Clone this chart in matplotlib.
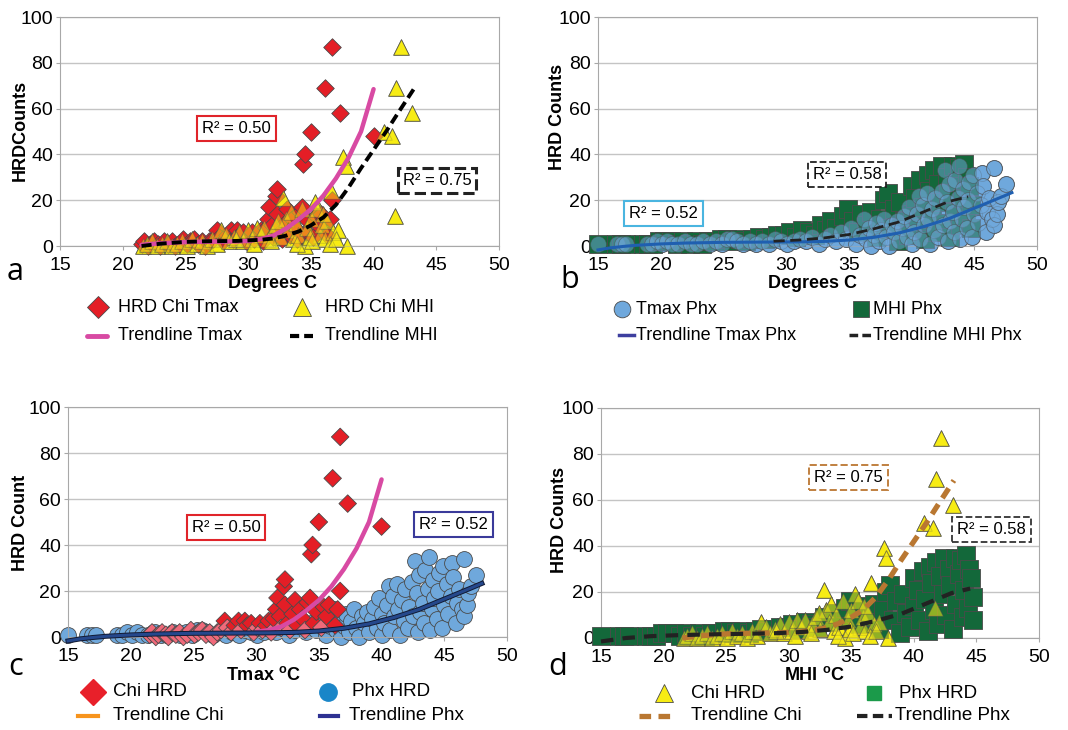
import numpy as np
import matplotlib
matplotlib.use("Agg")
import matplotlib.pyplot as plt
from matplotlib.lines import Line2D

plt.rcParams['font.family'] = ['Liberation Sans', 'DejaVu Sans']
plt.rcParams['mathtext.fontset'] = 'custom'
plt.rcParams['mathtext.rm'] = 'Liberation Sans'
plt.rcParams['mathtext.bf'] = 'Liberation Sans:bold'

# ---- data ----
chi_tmax_x = [21.5, 21.7, 22.0, 22.2, 22.5, 22.8, 23.0, 23.3, 23.6, 23.9,
              24.2, 24.5, 24.8, 25.1, 25.4, 25.7, 26.0, 26.3, 26.6, 26.9,
              27.2, 27.5, 27.7, 28.0, 28.3, 28.6, 28.8, 29.1, 29.3, 29.6,
              29.8, 30.1, 30.3, 30.5, 30.8, 31.0, 31.2, 31.4, 31.6, 31.7,
              31.9, 32.0, 32.2, 32.3, 32.3, 32.5, 32.7, 32.9, 33.1, 33.3,
              33.5, 33.7, 33.9, 34.1, 34.3, 34.4, 34.5, 34.6, 34.8, 35.0,
              35.2, 35.4, 35.6, 35.8, 36.1, 36.3, 36.5, 36.7, 36.7, 37.3,
              40.0]
chi_tmax_y = [1, 2, 0, 1, 2, 1, 0, 2, 1, 2,
              0, 1, 3, 1, 2, 3, 1, 2, 0, 2,
              3, 7, 4, 2, 5, 7, 3, 7, 5, 6,
              2, 4, 6, 3, 5, 7, 2, 8, 12, 17,
              9, 4, 22, 25, 14, 6, 3, 10, 16, 5,
              12, 8, 3, 15, 17, 36, 40, 6, 11, 50,
              4, 13, 9, 14, 69, 5, 12, 87, 20, 58,
              48]

chi_mhi_x = [21.6, 21.9, 22.3, 22.7, 23.1, 23.5, 23.9, 24.3, 24.7, 25.1,
             25.5, 25.9, 26.3, 26.7, 27.1, 27.5, 27.8, 28.2, 28.5, 28.9,
             29.3, 29.6, 30.0, 30.3, 30.7, 31.0, 31.3, 31.6, 31.9, 32.2,
             32.5, 32.8, 33.0, 33.2, 33.4, 33.6, 33.8, 34.0, 34.3, 34.5,
             34.7, 35.0, 35.3, 35.5, 35.7, 35.9, 36.1, 36.3, 36.6, 36.8,
             37.2, 37.6, 37.8, 37.9, 40.8, 41.5, 41.7, 41.8, 42.2, 43.1,
             29.0, 30.5, 31.8, 32.4, 33.9, 34.9, 35.1, 36.0, 36.5, 37.0]
chi_mhi_y = [0, 1, 2, 0, 1, 2, 0, 1, 2, 0,
             3, 1, 2, 0, 3, 1, 7, 5, 2, 4,
             6, 2, 7, 3, 8, 5, 8, 3, 6, 9,
             4, 21, 12, 7, 15, 3, 10, 5, 16, 0,
             8, 12, 19, 16, 5, 9, 3, 11, 24, 6,
             7, 39, 35, 0, 50, 48, 13, 69, 87, 58,
             3, 1, 2, 11, 1, 4, 2, 14, 1, 3]

phx_tmax_x = [15.0, 16.5, 16.9, 17.2, 18.9, 19.3, 19.7, 20.1, 20.5, 20.9,
              21.4, 21.9, 22.4, 22.9, 23.4, 23.9, 24.4, 24.9, 25.3, 25.7,
              26.1, 26.6, 27.1, 27.6, 28.1, 28.6, 29.1, 29.6, 30.1, 30.6,
              31.1, 31.6, 32.1, 32.6, 33.1, 33.5, 34.0, 34.4, 34.8, 35.2,
              35.6, 35.9, 36.2, 36.4, 36.6, 36.8, 37.0, 37.2, 37.4, 37.6,
              37.8, 38.0, 38.2, 38.4, 38.6, 38.8, 39.0, 39.2, 39.4, 39.6,
              39.8, 40.0, 40.0, 40.2, 40.4, 40.6, 40.7, 40.9, 41.0, 41.2,
              41.3, 41.5, 41.6, 41.8, 41.9, 42.1, 42.2, 42.4, 42.5, 42.7,
              42.8, 42.9, 43.0, 43.1, 43.3, 43.4, 43.5, 43.7, 43.8, 43.9,
              44.0, 44.1, 44.2, 44.4, 44.5, 44.6, 44.8, 44.9, 45.0, 45.2,
              45.3, 45.5, 45.6, 45.7, 45.9, 46.0, 46.2, 46.4, 46.6, 46.6,
              46.8, 46.9, 47.1, 47.5]
phx_tmax_y = [1, 1, 1, 1, 1, 1, 2, 1, 2, 1,
              1, 2, 1, 1, 2, 1, 2, 1, 3, 3,
              2, 1, 2, 1, 2, 1, 3, 2, 1, 2,
              3, 2, 4, 1, 3, 5, 2, 6, 3, 8,
              1, 5, 12, 3, 8, 0, 5, 10, 2, 7,
              12, 4, 0, 9, 6, 11, 2, 8, 13, 4,
              17, 10, 1, 6, 14, 22, 3, 18, 9, 23,
              12, 1, 16, 7, 21, 4, 13, 24, 9, 33,
              19, 2, 27, 11, 15, 6, 29, 21, 35, 3,
              12, 25, 17, 8, 20, 28, 4, 31, 14, 23,
              10, 18, 32, 26, 6, 15, 21, 12, 34, 9,
              14, 19, 22, 27]

phx_mhi_x = [15.0, 16.4, 16.8, 17.2, 18.6, 19.0, 19.4, 19.9, 20.3, 20.8,
             21.3, 21.8, 22.3, 22.8, 23.3, 23.8, 24.3, 24.8, 25.3, 25.8,
             26.3, 26.8, 27.3, 27.8, 28.3, 28.8, 29.3, 29.8, 30.3, 30.8,
             31.3, 31.8, 32.3, 32.8, 33.2, 33.6, 34.0, 34.5, 34.9, 35.3,
             35.7, 36.0, 36.4, 36.8, 37.2, 37.5, 37.8, 38.1, 38.3, 38.6,
             38.9, 39.1, 39.4, 39.7, 40.0, 40.0, 40.3, 40.5, 40.7, 40.9,
             41.1, 41.3, 41.4, 41.6, 41.8, 41.9, 42.1, 42.3, 42.4, 42.6,
             42.8, 42.9, 43.1, 43.3, 43.4, 43.6, 43.8, 43.9, 44.0, 44.2,
             44.3, 44.4, 44.6, 44.7, 44.7]
phx_mhi_y = [1, 1, 1, 1, 1, 1, 1, 2, 2, 2,
             1, 2, 1, 2, 1, 2, 2, 3, 3, 2,
             3, 2, 3, 4, 3, 4, 5, 5, 6, 4,
             7, 6, 5, 9, 7, 11, 8, 13, 16, 11,
             6, 14, 9, 15, 4, 12, 20, 23, 8, 16,
             2, 19, 11, 5, 26, 14, 21, 8, 29, 17,
             3, 31, 24, 12, 33, 6, 27, 19, 35, 10,
             30, 23, 4, 35, 15, 28, 34, 9, 21, 36,
             13, 30, 26, 8, 18]

# trendlines
trend_chi_tmax_x = [21.5, 23, 25, 27, 29, 30, 31, 32, 33, 34, 35, 36, 37, 38, 39, 40]
trend_chi_tmax_y = [0.5, 1.2, 1.7, 1.9, 2.0, 2.2, 3.0, 4.5, 7.5, 11.5, 16, 22, 29.5, 38.5, 50, 68.5]
trend_chi_mhi_x = [21.5, 23, 25, 27, 29, 31, 32, 33, 34, 35, 36, 37, 38, 39, 40, 41, 42, 43.2]
trend_chi_mhi_y = [0, 1, 1.8, 2.1, 2.2, 2.7, 3.3, 4.5, 6.3, 9, 12.5, 18, 25.5, 34, 42, 50, 58.5, 68.5]
trend_phx_tmax_x = [15, 16, 17, 18, 20, 22, 25, 28, 31, 33, 35, 37, 39, 41, 43, 45, 47, 48]
trend_phx_tmax_y = [-1.7, -0.8, -0.2, 0.3, 0.9, 1.3, 1.6, 1.7, 1.8, 2.0, 2.6, 3.8, 5.7, 8.5, 12, 16.5, 21, 23.3]
trend_phx_mhi_x = [15, 17, 19, 21, 23, 25, 27, 29, 31, 33, 35, 37, 39, 41, 43, 44.5]
trend_phx_mhi_y = [-1.5, 0, 0.8, 1.2, 1.5, 1.7, 1.9, 2.1, 2.6, 3.5, 5, 7.5, 10.5, 15, 19.5, 21.5]

r2_labels = ["R² = 0.50", "R² = 0.75", "R² = 0.52", "R² = 0.58"]

# ---- styles ----
RED = '#e41e26'
PINK = '#f06a7a'
YELLOW = '#f7ec14'
BLUE = '#6fa8dc'
GREEN = '#13683a'
MAGENTA = '#d84aa3'
EDGE = '#4a4a4a'
S_TRI, S_DIA, S_CIR, S_SQ = 125, 80, 130, 160

W, H = 1068, 730
fig = plt.figure(figsize=(W / 100, H / 100), dpi=100)


def rect(l, t, r, b):
    return [l / W, 1 - b / H, (r - l) / W, (b - t) / H]


def setup(ax):
    ax.set_xlim(15, 50)
    ax.set_ylim(0, 100)
    ax.set_xticks(range(15, 51, 5))
    ax.set_yticks(range(0, 101, 20))
    ax.grid(axis='y', color='#c4c4c4', lw=1)
    ax.set_axisbelow(True)
    for s in ax.spines.values():
        s.set_color('#a8a8a8')
    ax.tick_params(labelsize=14, length=3, color='#a8a8a8', pad=2)
    ax.tick_params(axis='x', pad=5)


def r2box(ax, x, y, text, color, ls='-', lw=1.5):
    ax.text(x, y, text, ha='center', va='center', fontsize=12, zorder=10,
            bbox=dict(boxstyle='square,pad=0.3', fc='white', ec=color, lw=lw, ls=ls))


def leg_marker(x, y, text, tx, fs=13, **kw):
    fig.add_artist(Line2D([x / W], [1 - y / H], transform=fig.transFigure, ls='none', **kw))
    fig.text(tx / W, 1 - y / H, text, va='center', fontsize=fs)


def leg_line(x0, x1, y, text, tx, fs=13, **kw):
    fig.add_artist(Line2D([x0 / W, x1 / W], [1 - y / H, 1 - y / H], transform=fig.transFigure, **kw))
    fig.text(tx / W, 1 - y / H, text, va='center', fontsize=fs)


sc = dict(linewidths=0.6, edgecolors=EDGE, clip_on=False)

# ---- panel a ----
ax = fig.add_axes(rect(60, 17, 499, 246))
setup(ax)
ax.scatter(chi_mhi_x, chi_mhi_y, s=S_TRI, marker='^', c=YELLOW, zorder=2, **sc)
ax.scatter(chi_tmax_x, chi_tmax_y, s=S_DIA, marker='D', c=RED, zorder=3, **sc)
ax.scatter(chi_mhi_x, chi_mhi_y, s=S_TRI, marker='^', c=YELLOW, alpha=0.5, zorder=4, **sc)
ax.plot(trend_chi_tmax_x, trend_chi_tmax_y, color=MAGENTA, lw=3.2, zorder=5, clip_on=False,
        solid_capstyle='round')
ax.plot(trend_chi_mhi_x, trend_chi_mhi_y, color='black', lw=2.8, ls=(0, (2.6, 1.3)), zorder=6,
        clip_on=False)
r2box(ax, 29.1, 51.5, r2_labels[0], '#e0242a')
r2box(ax, 45.05, 28.4, r2_labels[1], '#222222', ls='--', lw=2.2)
fig.text(273 / W, 1 - 283 / H, 'Degrees C', ha='center', va='center', fontsize=13, weight='bold')
fig.text(20 / W, 1 - 130 / H, 'HRDCounts', ha='center', va='center', fontsize=13, weight='bold',
         rotation=90)
fig.text(7 / W, 1 - 280 / H, 'a', fontsize=22, family='Open Sans')
leg_marker(98, 307, 'HRD Chi Tmax', 118, marker='D', ms=11, mfc=RED, mec=EDGE, mew=0.6)
leg_marker(302, 307, 'HRD Chi MHI', 325, marker='^', ms=13, mfc=YELLOW, mec=EDGE, mew=0.6)
leg_line(87, 107, 336, 'Trendline Tmax', 118, color=MAGENTA, lw=3.5, solid_capstyle='round')
leg_line(290, 313, 336, 'Trendline MHI', 325, color='black', lw=3, ls=(0, (2.2, 1.2)))

# ---- panel b ----
ax = fig.add_axes(rect(598, 17, 1037, 246))
setup(ax)
ax.scatter(phx_tmax_x, phx_tmax_y, s=S_CIR, marker='o', c=BLUE, zorder=2, **sc)
ax.scatter(phx_mhi_x, phx_mhi_y, s=S_SQ, marker='s', c=GREEN, zorder=3, **sc)
ax.scatter(phx_tmax_x, phx_tmax_y, s=S_CIR, marker='o', c=BLUE, alpha=0.5, zorder=4, **sc)
ax.plot(trend_phx_tmax_x, trend_phx_tmax_y, color='#1f5fb0', lw=2.2, zorder=5, clip_on=False)
ax.plot(trend_phx_mhi_x[7:], trend_phx_mhi_y[7:], color='#222222', lw=2, ls=(0, (4, 2)),
        zorder=6, clip_on=False)
r2box(ax, 20.2, 14.0, r2_labels[2], '#4ab5e0')
r2box(ax, 34.85, 31.4, r2_labels[3], '#222222', ls='--', lw=1.3)
fig.text(812 / W, 1 - 284 / H, 'Degrees C', ha='center', va='center', fontsize=13, weight='bold')
fig.text(557 / W, 1 - 117 / H, 'HRD Counts', ha='center', va='center', fontsize=13, weight='bold',
         rotation=90)
fig.text(560 / W, 1 - 288 / H, 'b', fontsize=22, family='Open Sans')
leg_marker(622, 309, 'Tmax Phx', 636, marker='o', ms=12, mfc=BLUE, mec=EDGE, mew=0.6)
leg_marker(861, 309, 'MHI Phx', 873, marker='s', ms=12, mfc=GREEN, mec=EDGE, mew=0.6)
leg_line(619, 634, 335, 'Trendline Tmax Phx', 636, color='#3d3f9f', lw=2.5)
leg_line(849, 871, 335, 'Trendline MHI Phx', 873, color='#222222', lw=2.5, ls=(0, (2.5, 1.2)))

# ---- panel c ----
ax = fig.add_axes(rect(68, 407, 507, 637))
setup(ax)
ax.scatter(phx_tmax_x, phx_tmax_y, s=S_CIR, marker='o', c=BLUE, zorder=2, **sc)
chi_c = [PINK if v <= 4 else RED for v in chi_tmax_y]
ax.scatter(chi_tmax_x, chi_tmax_y, s=S_DIA, marker='D', c=chi_c, zorder=3, **sc)
ax.plot(trend_chi_tmax_x[5:], trend_chi_tmax_y[5:], color=MAGENTA, lw=3.2, zorder=5,
        clip_on=False, solid_capstyle='round')
ax.plot(trend_phx_tmax_x, trend_phx_tmax_y, color='#111a33', lw=3.6, zorder=6, clip_on=False)
ax.plot(trend_phx_tmax_x, trend_phx_tmax_y, color='#25488c', lw=2.2, zorder=7, clip_on=False)
r2box(ax, 27.6, 47.8, r2_labels[0], '#e0242a')
r2box(ax, 45.7, 48.7, r2_labels[2], '#3a3a9a')
fig.text(263 / W, 1 - 675 / H, r'Tmax $^{\mathbf{o}}$C', ha='center', va='center', fontsize=13,
         weight='bold')
fig.text(21 / W, 1 - 523 / H, 'HRD Count', ha='center', va='center', fontsize=13, weight='bold',
         rotation=90)
fig.text(8 / W, 1 - 675 / H, 'c', fontsize=22, family='Open Sans')
leg_marker(93, 692, 'Chi HRD', 113, fs=13.5, marker='D', ms=13, mfc='#e8202a', mec='#e8202a')
leg_marker(328, 692, 'Phx HRD', 352, fs=13.5, marker='o', ms=12.5, mfc='#1a86c8', mec='#1a86c8')
leg_line(78, 98, 716, 'Trendline Chi', 113, fs=13.5, color='#f7941d', lw=3)
leg_line(320, 338, 716, 'Trendline Phx', 349, fs=13.5, color='#2e3192', lw=3)

# ---- panel d ----
ax = fig.add_axes(rect(601, 408, 1039, 638))
setup(ax)
ax.scatter(chi_mhi_x, chi_mhi_y, s=S_TRI, marker='^', c=YELLOW, zorder=2, **sc)
ax.scatter(phx_mhi_x, phx_mhi_y, s=S_SQ, marker='s', c=GREEN, zorder=3, **sc)
ax.scatter(chi_mhi_x, chi_mhi_y, s=S_TRI, marker='^', c=YELLOW, alpha=0.55, zorder=4, **sc)
ax.plot(trend_chi_mhi_x, trend_chi_mhi_y, color='#b97731', lw=3.8, ls=(0, (2.2, 1.4)),
        zorder=5, clip_on=False)
ax.plot(trend_phx_mhi_x, trend_phx_mhi_y, color='#222222', lw=3, ls=(0, (3, 2.2)), zorder=6,
        clip_on=False)
r2box(ax, 34.8, 69.8, r2_labels[1], '#c08040', ls='--', lw=1.4)
r2box(ax, 46.2, 47.2, r2_labels[3], '#333333', ls='--', lw=1.3)
fig.text(814 / W, 1 - 675 / H, r'MHI $^{\mathbf{o}}$C', ha='center', va='center', fontsize=13,
         weight='bold')
fig.text(559 / W, 1 - 520 / H, 'HRD Counts', ha='center', va='center', fontsize=13, weight='bold',
         rotation=90)
fig.text(548 / W, 1 - 675 / H, 'd', fontsize=22, family='Open Sans')
leg_marker(664, 693, 'Chi HRD', 691, fs=13.5, marker='^', ms=13, mfc=YELLOW, mec=EDGE, mew=0.6)
leg_marker(874, 693, 'Phx HRD', 899, fs=13.5, marker='s', ms=10, mfc='#1b9a4a', mec='#1b9a4a')
leg_line(639, 674, 716, 'Trendline Chi', 691, fs=13.5, color='#b97731', lw=3.8,
         ls=(0, (2.2, 1.4)))
leg_line(857, 892, 716, 'Trendline Phx', 895, fs=13.5, color='#222222', lw=3, ls=(0, (2.5, 1.3)))

fig.savefig('out.png', dpi=100)
